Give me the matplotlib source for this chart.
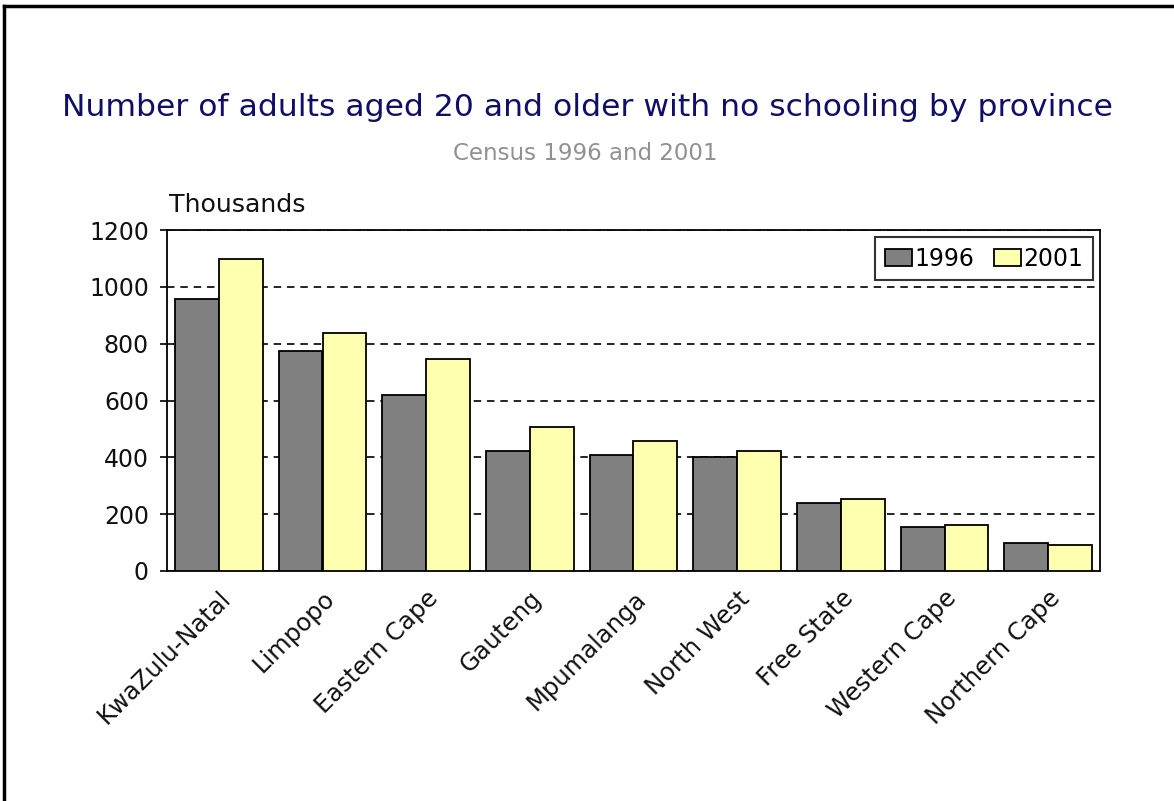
import matplotlib
matplotlib.use("Agg")
import matplotlib.pyplot as plt
from matplotlib.lines import Line2D
import matplotlib.transforms as mtransforms
import numpy as np

plt.rcParams['font.family'] = ['DejaVu Sans']

provinces = ["KwaZulu-Natal", "Limpopo", "Eastern Cape", "Gauteng", "Mpumalanga",
             "North West", "Free State", "Western Cape", "Northern Cape"]
values_1996 = [957, 773, 620, 422, 407, 400, 239, 154, 98]
values_2001 = [1097, 836, 746, 505, 457, 421, 254, 161, 91]
series_labels = ["1996", "2001"]
yticks = [0, 200, 400, 600, 800, 1000, 1200]

fig = plt.figure(figsize=(11.74, 8.01), dpi=100)
ax = fig.add_axes([167/1174, 1-571/801, 933/1174, 341/801])

x = np.arange(len(provinces))
w = 0.424
ax.bar(x - w/2, values_1996, w, color="#808080", edgecolor="black", linewidth=1.3,
       label=series_labels[0], zorder=3)
ax.bar(x + w/2, values_2001, w, color="#FFFFB0", edgecolor="black", linewidth=1.3,
       label=series_labels[1], zorder=3)

ax.set_xlim(-0.5, len(provinces) - 0.5)
ax.set_ylim(0, 1200)
ax.set_yticks(yticks)
ax.set_yticklabels([str(v) for v in yticks], fontsize=17, color="#111111")
ax.yaxis.grid(True, linestyle=(0, (4.5, 3.5)), color="black", linewidth=1.2, zorder=0)
ax.set_xticks(x)
ax.set_xticklabels(provinces, rotation=45, ha="right", rotation_mode="anchor",
                   fontsize=17.5, color="#111111")
offset = mtransforms.ScaledTranslation(-6/100, 0, fig.dpi_scale_trans)
for lbl in ax.get_xticklabels():
    lbl.set_transform(lbl.get_transform() + offset)
ax.tick_params(axis="x", length=0, pad=11)
ax.tick_params(axis="y", length=5, direction="out", width=1.2, pad=8)
for s in ax.spines.values():
    s.set_linewidth(1.3)

leg = ax.legend(loc="upper right", ncol=2, fontsize=17, frameon=True, fancybox=False,
                edgecolor="black", handlelength=1.15, handleheight=0.76, handletextpad=0.1,
                columnspacing=0.85, borderpad=0.4, borderaxespad=0.3)
leg.get_frame().set_linewidth(1.5)

fig.text(587/1174, 1-107/801, "Number of adults aged 20 and older with no schooling by province",
         ha="center", va="center", fontsize=22.6, color="#0f0f68")
fig.text(585/1174, 1-153/801, "Census 1996 and 2001", ha="center", va="center",
         fontsize=16.5, color="#919191")
fig.text(169/1174, 1-205/801, "Thousands", ha="left", va="center", fontsize=18.2, color="#111111")

# outer border (top and left)
fig.add_artist(Line2D([4/1174, 4/1174], [0, 1-6/801], transform=fig.transFigure, color="black", linewidth=2.5))
fig.add_artist(Line2D([4/1174, 1], [1-6/801, 1-6/801], transform=fig.transFigure, color="black", linewidth=2.5))

fig.savefig("out.png", dpi=100)
